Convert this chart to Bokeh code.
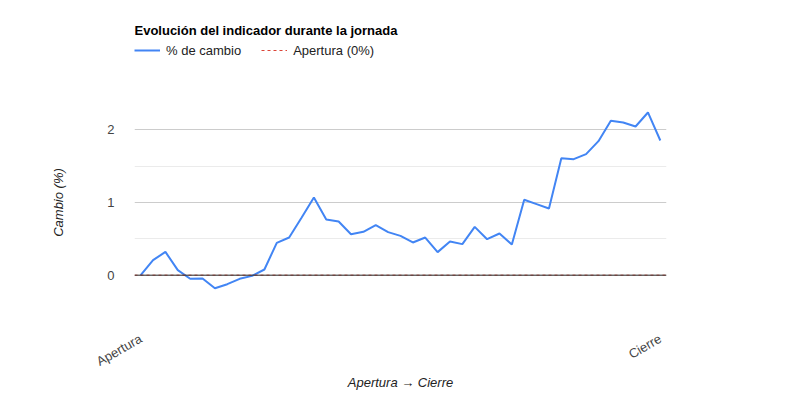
import math
from bokeh.plotting import figure
from bokeh.layouts import column
from bokeh.models import FixedTicker, Legend, LegendItem, Span, Range1d, ColumnDataSource, Label
from bokeh.embed import file_html
from bokeh.resources import INLINE

# ---- data ----
cambio = [0.0, 0.206, 0.32, 0.07, -0.05, -0.046, -0.18, -0.124, -0.05, -0.01,
          0.078, 0.445, 0.518, 0.79, 1.069, 0.766, 0.739, 0.564, 0.596, 0.688,
          0.592, 0.541, 0.45, 0.518, 0.317, 0.463, 0.427, 0.665, 0.495, 0.573,
          0.422, 1.037, 0.977, 0.917, 1.61, 1.596, 1.665, 1.844, 2.124, 2.10,
          2.046, 2.239, 1.853]
pasos = list(range(len(cambio)))
apertura_valor = 0.0
x_labels = {0: "Apertura", len(cambio) - 1: "Cierre"}
y_ticks = [0, 1, 2]
y_minor = [-0.5, 0.5, 1.5, 2.5]
title_text = "Evolución del indicador durante la jornada"
serie_label = "% de cambio"
ref_label = "Apertura (0%)"
x_title = "Apertura → Cierre"
y_title = "Cambio (%)"

FONT = "Liberation Sans"
BLUE = "#4285F4"
RED = "#DB4437"
W = 784
HEAD_H = 83
FRAME_W, FRAME_H = 532, 218
LEFT = 134

x_start, x_end = -0.5, len(cambio) - 0.5

# ---------- header (title + legend) ----------
head = figure(width=W, height=HEAD_H, output_backend="svg", toolbar_location=None,
              x_axis_type=None, y_axis_type=None, min_border=0,
              x_range=Range1d(0, 1), y_range=Range1d(0, 1))
head.outline_line_color = None
head.xgrid.visible = False
head.ygrid.visible = False
head.add_layout(Label(x=0, y=HEAD_H - 30, x_units="screen", y_units="screen", text=title_text,
                      text_font=FONT, text_font_size="13px", text_font_style="bold",
                      text_color="#000000", text_baseline="middle", text_align="left"))
# legend proxies (single point, nothing visible drawn in the header itself)
h_main = head.line(x=[-10], y=[-10], line_color=BLUE, line_width=2)
h_ref = head.line(x=[-10], y=[-10], line_color=RED, line_width=1, line_dash="3 3")
legend = Legend(items=[LegendItem(label=serie_label, renderers=[h_main]),
                       LegendItem(label=ref_label, renderers=[h_ref])],
                orientation="horizontal", location=(0, HEAD_H - 60))
legend.border_line_color = None
legend.background_fill_alpha = 0
legend.label_text_font = FONT
legend.label_text_font_size = "13px"
legend.label_text_color = "#222222"
legend.glyph_width = 26
legend.label_standoff = 6
legend.spacing = 20
legend.padding = 0
legend.margin = 0
head.add_layout(legend, "center")

# ---------- main chart ----------
p = figure(frame_width=FRAME_W, frame_height=FRAME_H, output_backend="svg", toolbar_location=None,
           x_range=Range1d(x_start, x_end), y_range=Range1d(-0.5, 2.5),
           min_border_left=LEFT, min_border_right=W - LEFT - FRAME_W, min_border_top=10,
           min_border_bottom=77)
p.outline_line_color = None

p.xgrid.visible = False
p.ygrid.grid_line_color = "#cccccc"
p.ygrid.minor_grid_line_color = "#ebebeb"
p.yaxis.ticker = FixedTicker(ticks=y_ticks, minor_ticks=y_minor)

p.add_layout(Span(location=apertura_valor, dimension="width", line_color="#333333", line_width=1))

src = ColumnDataSource(dict(x=pasos, y=cambio))
p.line("x", "y", source=src, line_color=BLUE, line_width=2)
p.line([x_start, x_end], [apertura_valor, apertura_valor], line_color=RED,
       line_width=1, line_dash="3 3")

for ax in (p.xaxis[0], p.yaxis[0]):
    ax.axis_line_color = None
    ax.major_tick_line_color = None
    ax.minor_tick_line_color = None
    ax.major_label_text_font = FONT
    ax.major_label_text_font_size = "13px"
    ax.major_label_text_color = "#444444"
    ax.axis_label_text_font = FONT
    ax.axis_label_text_font_size = "13px"
    ax.axis_label_text_font_style = "italic"
    ax.axis_label_text_color = "#222222"

p.xaxis.ticker = FixedTicker(ticks=list(x_labels.keys()))
p.xaxis.major_label_overrides = x_labels
p.xaxis.major_label_orientation = math.pi / 6
p.xaxis.major_label_standoff = 20
p.xaxis.axis_label_standoff = -3
p.xaxis.axis_label = x_title
p.yaxis.axis_label = y_title
p.yaxis.major_label_standoff = 14
p.yaxis.axis_label_standoff = 38

layout = column(head, p, spacing=0)
open("out.html", "w").write(file_html(layout, INLINE))
